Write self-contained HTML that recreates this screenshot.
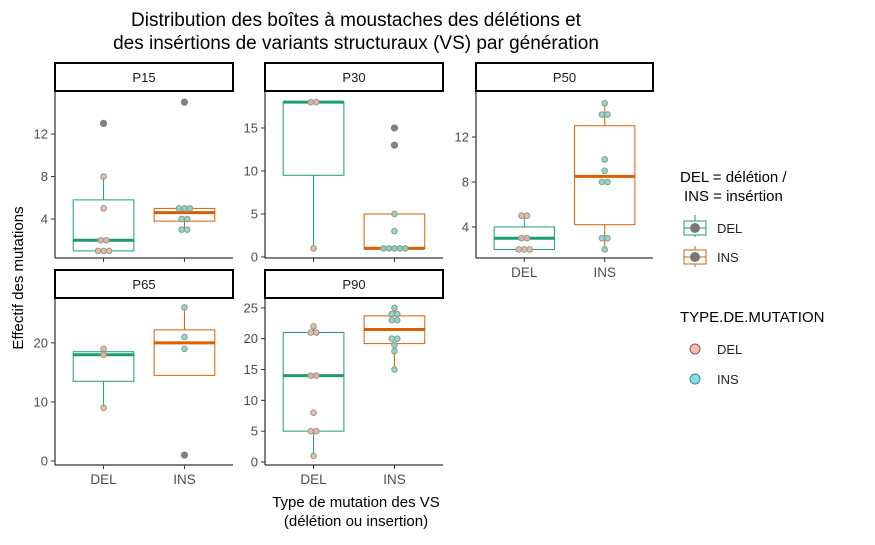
<!DOCTYPE html>
<html><head><meta charset="utf-8"><style>
body{margin:0;background:#fff}
svg text{font-family:"Liberation Sans",Arial,sans-serif}
</style></head><body>
<svg id="c" width="875" height="540" xmlns="http://www.w3.org/2000/svg">
<text x="356" y="26" font-size="19" text-anchor="middle" fill="#000">Distribution des boîtes à moustaches des délétions et</text>
<text x="356" y="49" font-size="19" text-anchor="middle" fill="#000">des insértions de variants structuraux (VS) par génération</text>
<text transform="translate(23,278) rotate(-90)" font-size="15" text-anchor="middle">Effectif des mutations</text>
<text x="356" y="507" font-size="15" text-anchor="middle">Type de mutation des VS</text>
<text x="356" y="526" font-size="15" text-anchor="middle">(délétion ou insertion)</text>
<g id="panels"></g>
<g>
<text x="680" y="182" font-size="15">DEL = délétion /</text>
<text x="684" y="201" font-size="15">INS = insértion</text>
<g><line x1="695" y1="215" x2="695" y2="237" stroke="#1B9E77"/><rect x="684" y="221" width="22" height="14" fill="#fff" stroke="#1B9E77"/><line x1="684" y1="228" x2="706" y2="228" stroke="#1B9E77"/><circle cx="695" cy="228" r="5" fill="#777"/><text x="717" y="233" font-size="13" fill="#222">DEL</text></g>
<g><line x1="695" y1="246" x2="695" y2="267" stroke="#D95F02"/><rect x="684" y="250" width="22" height="14" fill="#fff" stroke="#D95F02"/><line x1="684" y1="257" x2="706" y2="257" stroke="#D95F02"/><circle cx="695" cy="257" r="5" fill="#777"/><text x="717" y="262" font-size="13" fill="#222">INS</text></g>
</g>
<g>
<text x="680" y="322" font-size="15">TYPE.DE.MUTATION</text>
<g><circle cx="695" cy="349" r="5" fill="#fbbab6" stroke="#8a5a5a"/><text x="717" y="354" font-size="13" fill="#222">DEL</text></g>
<g><circle cx="695" cy="379" r="5" fill="#7fdfe1" stroke="#4a8a8a"/><text x="717" y="384" font-size="13" fill="#222">INS</text></g>
</g>
</svg>
<script>
const panelNames=["P15","P30","P50","P65","P90"];
const categories=["DEL","INS"];
// box stats per panel: [q1, median, q3, whiskerLow, whiskerHigh]
const boxDEL=[[1,2,5.8,1,8],[9.5,18,18,1,18],[2,3,4,2,5],[13.5,18,18.5,9,19],[5,14,21,1,22]];
const boxINS=[[3.8,4.6,5,3,5],[1,1,5,1,5],[4.2,8.5,13,2,15],[14.5,20,22.2,19,26],[19.2,21.5,23.7,15,25]];
const outDEL=[[13],[],[],[],[]];
const outINS=[[15],[13,15],[],[1],[]];
const ptsDEL=[[1,1,1,2,2,5,8,13],[1,18,18],[2,2,2,3,3,5,5],[9,18,19],[1,5,5,8,14,14,21,21,22]];
const ptsINS=[[3,3,4,4,5,5,5,15],[1,1,1,1,1,3,5,13,15],[2,3,3,8,8,9,10,14,14,15],[1,19,21,26],[15,18,19,20,20,23,23,24,24,25]];
const yTicks=[[4,8,12],[0,5,10,15],[4,8,12],[0,10,20],[0,5,10,15,20,25]];
const yDomain=[[0.33,16.05],[-0.12,19.3],[1.24,16.09],[-0.68,27.6],[-0.49,26.6]];
// layout
const L=[{x:55,y:91,w:178,h:167},{x:265,y:91,w:178,h:167},{x:476,y:91,w:177,h:167},{x:55,y:298,w:178,h:167},{x:265,y:298,w:178,h:167}];
const showX=[false,false,true,true,true];
const NS="http://www.w3.org/2000/svg";
const root=document.getElementById("panels");
function mk(t,a,p){const e=document.createElementNS(NS,t);for(const k in a)e.setAttribute(k,a[k]);p.appendChild(e);return e;}
const boxCol=["#1B9E77","#D95F02"];
panelNames.forEach((nm,i)=>{
  const l=L[i];
  const g=mk("g",{},root);
  
  
  const [d0,d1]=yDomain[i];
  const ys=v=>l.y+l.h-(v-d0)/(d1-d0)*l.h;
  const xs=c=>l.x+(c+0.6)/2.2*l.w;
  const bw=0.75/2.2*l.w;
  const strip=mk("rect",{x:l.x,y:l.y-28,width:l.w,height:28,fill:"#fff",stroke:"#000","stroke-width":2},g);
  
  
  const st=mk("text",{x:l.x+l.w/2,y:l.y-9,"font-size":13,"text-anchor":"middle",fill:"#1a1a1a"},g);st.textContent=nm;
  mk("line",{x1:l.x,y1:l.y,x2:l.x,y2:l.y+l.h,stroke:"#000"},g);
  mk("line",{x1:l.x,y1:l.y+l.h,x2:l.x+l.w,y2:l.y+l.h,stroke:"#000"},g);
  yTicks[i].forEach(t=>{
    const y=ys(t);
    mk("line",{x1:l.x-4,y1:y,x2:l.x,y2:y,stroke:"#333"},g);
    const tx=mk("text",{x:l.x-7,y:y+4.5,"font-size":13,"text-anchor":"end",fill:"#4d4d4d"},g);tx.textContent=t;
    
    
  });
  categories.forEach((c,ci)=>{
    const x=xs(ci);
    mk("line",{x1:x,y1:l.y+l.h,x2:x,y2:l.y+l.h+4,stroke:"#333"},g);
    if(showX[i]){const tx=mk("text",{x:x,y:l.y+l.h+19,"font-size":13.5,"text-anchor":"middle",fill:"#4d4d4d"},g);tx.textContent=c;
      
      }
    const b=(ci?boxINS:boxDEL)[i], col=boxCol[ci];
    const bg=mk("g",{},g);
    
    
    mk("line",{x1:x,y1:ys(b[3]),x2:x,y2:ys(b[0]),stroke:col},bg);
    mk("line",{x1:x,y1:ys(b[2]),x2:x,y2:ys(b[4]),stroke:col},bg);
    mk("rect",{x:x-bw/2,y:ys(b[2]),width:bw,height:Math.max(0.5,ys(b[0])-ys(b[2])),fill:"#fff",stroke:col},bg);
    mk("line",{x1:x-bw/2,y1:ys(b[1]),x2:x+bw/2,y2:ys(b[1]),stroke:col,"stroke-width":3},bg);
    const pts=(ci?ptsINS:ptsDEL)[i];
    const cnt={};pts.forEach(v=>cnt[v]=(cnt[v]||0)+1);
    const seen={};
    pts.forEach(v=>{
      const k=seen[v]=(seen[v]||0);seen[v]++;
      const off=(k-(cnt[v]-1)/2)*5.5;
      const p=mk("circle",{cx:x+off,cy:ys(v),r:2.8,fill:ci?"#7fd6cf":"#f4b0a8",stroke:"#8f9a85","stroke-width":1,"fill-opacity":0.9},g);
      
      
    });
    (ci?outINS:outDEL)[i].forEach(v=>{
      const o=mk("circle",{cx:x,cy:ys(v),r:3.6,fill:"#777","fill-opacity":0.85},g);
      
      
    });
  });
});
</script>
</body></html>
